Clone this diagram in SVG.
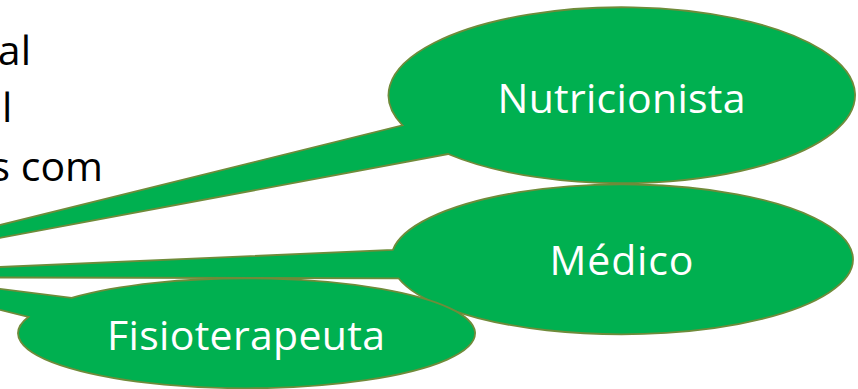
<svg xmlns="http://www.w3.org/2000/svg" width="858" height="389" viewBox="0 0 858 389">
  <style>
    .callout { fill: #00B050; stroke: #6F8B3A; stroke-width: 1.8; stroke-linejoin: miter; }
    .label { fill: #FFFFFF; font-family: "Open Sans", "Noto Sans", "DejaVu Sans", sans-serif; font-size: 41px; text-anchor: middle; }
    .body { fill: #000000; font-family: "Open Sans", "Noto Sans", "DejaVu Sans", sans-serif; font-size: 41px; }
  </style>
  <rect x="0" y="0" width="858" height="389" fill="#FFFFFF"/>
  <g id="background-text">
    <text class="body" x="31" y="65" text-anchor="end">al</text>
    <text class="body" x="2" y="122">l</text>
    <text class="body" x="103" y="181" text-anchor="end">s com</text>
  </g>
  <g id="connectors"></g>
  <g id="nutricionista">
    <path class="callout" d="M -214,278 L 402.5,125.3 A 233.3 88 0 1 1 448.1,154 Z"/>
    <text class="label" x="621.5" y="113" textLength="248">Nutricionista</text>
  </g>
  <g id="medico">
    <path class="callout" d="M -232,277 L 392.8,250 A 231 75 0 1 1 398.5,278.3 Z"/>
    <text class="label" x="621.5" y="275" textLength="144">Médico</text>
  </g>
  <g id="fisioterapeuta">
    <path class="callout" d="M -168,268 L 71.6,297.9 A 228.5 55 0 1 1 28.3,317 Z"/>
    <text class="label" x="246" y="350" textLength="278">Fisioterapeuta</text>
  </g>
</svg>
